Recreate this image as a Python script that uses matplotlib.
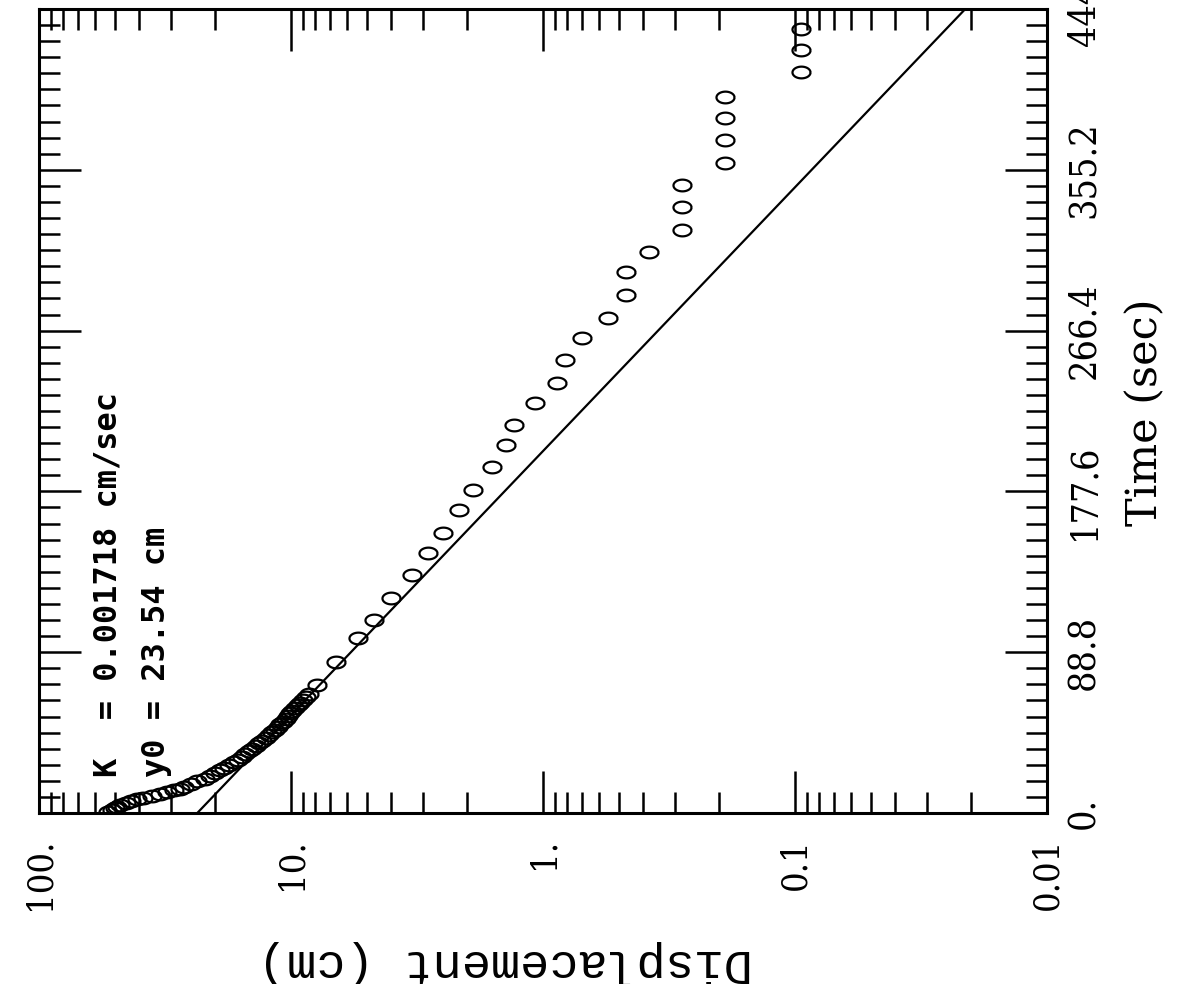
import numpy as np
import matplotlib
matplotlib.use("Agg")
import matplotlib.pyplot as plt
from matplotlib.path import Path
from matplotlib.ticker import LogLocator, MultipleLocator, NullFormatter

# slug test record: time (sec) and displacement (cm)
time_dense = [0.5, 1.5, 2.5, 3.5, 4.5, 5.5, 6.5, 7.5, 8.5, 9.5, 10.5, 11.5, 12.5,
              13.5, 14.5, 16, 17.5, 19, 20.5, 22, 23.5, 25, 26.5, 28, 29.5, 31,
              32.5, 34, 35.5, 37, 38.5, 40, 41.5, 43, 44.5, 46, 47.5, 49, 50.5,
              52, 53.5, 55, 56.5, 58, 59.5, 61, 62.5, 64, 65.5]
disp_dense = [53, 51.5, 50, 49, 47.5, 45, 43, 41, 38.5, 35.5, 33, 31, 29,
              27.5, 26.5, 25, 23.5, 22, 21, 20, 19.2, 18.4, 17.6, 16.9, 16.3, 15.7,
              15.2, 14.7, 14.3, 13.8, 13.4, 13.0, 12.6, 12.2, 11.9, 11.6, 11.3, 11.1, 10.8,
              10.5, 10.3, 10.1, 9.9, 9.6, 9.4, 9.2, 9.0, 8.7, 8.5]

time_sparse = [70.7, 83.4, 96.6, 106.6, 118.7, 131.4, 143.6, 154.6, 167.3, 178.4,
               191.1, 203.2, 214.3, 226.4, 237.4, 250.1, 262.3, 273.3, 286.0, 298.7,
               309.8, 321.9, 334.6, 346.8, 358.9, 371.6, 383.8, 395.4, 409.2, 421.3, 433.0]
disp_sparse = [7.9, 6.6, 5.4, 4.7, 4.0, 3.3, 2.85, 2.5, 2.15, 1.9,
               1.6, 1.4, 1.3, 1.08, 0.88, 0.82, 0.70, 0.55, 0.47, 0.47,
               0.38, 0.28, 0.28, 0.28, 0.19, 0.19, 0.19, 0.19, 0.095, 0.095, 0.095]

# fitted straight line (y0 = 23.54 cm)
fit_time = [0, 444]
fit_disp = [23.54, 0.0211]

disp_ticks = [100, 10, 1, 0.1, 0.01]
disp_labels = ['100.', '10.', '1.', '0.1', '0.01']
time_ticks = [0, 88.8, 177.6, 266.4, 355.2, 444]
time_labels = ['0.', '88.8', '177.6', '266.4', '355.2', '444.']

# oval marker, like a printed "0"
th = np.linspace(0, 2 * np.pi, 41)
oval = Path(np.column_stack([np.cos(th), 0.65 * np.sin(th)]))

fig = plt.figure(figsize=(11.78, 9.84), dpi=100)
ax = fig.add_axes([39 / 1178, 1 - 813 / 984, 1008 / 1178, 804 / 984])

ax.plot(fit_disp, fit_time, color='k', lw=1.6)
ax.plot(disp_dense + disp_sparse, time_dense + time_sparse, ls='none',
        marker=oval, ms=13, mfc='none', mec='k', mew=1.6)

ax.set_xscale('log')
ax.set_xlim(100, 0.01)
ax.set_ylim(0, 444)

ax.set_xticks(disp_ticks)
ax.set_xticklabels(disp_labels, rotation=90, family='DejaVu Serif',
                   fontstretch='condensed', fontsize=26)
ax.xaxis.set_minor_locator(LogLocator(base=10, subs=np.arange(2, 10)))
ax.xaxis.set_minor_formatter(NullFormatter())

ax.set_yticks(time_ticks)
ax.set_yticklabels(time_labels, rotation=90, va='center', family='DejaVu Serif',
                   fontstretch='condensed', fontsize=27)
ax.yaxis.set_minor_locator(MultipleLocator(8.88))

ax.tick_params(axis='both', which='both', direction='in', top=True, bottom=True,
               left=True, right=True, labelleft=False, labelright=True, width=1.8)
ax.tick_params(axis='both', which='major', length=30)
ax.tick_params(axis='both', which='minor', length=15)
ax.tick_params(axis='x', which='major', pad=18)
ax.tick_params(axis='y', which='major', pad=14)

for s in ax.spines.values():
    s.set_linewidth(2.2)

ax.text((108 - 39) / 1008, 36 / 804, 'K  = 0.001718 cm/sec', transform=ax.transAxes,
        rotation=90, ha='center', va='bottom', family='DejaVu Sans Mono',
        fontweight='bold', fontsize=23)
ax.text((157 - 39) / 1008, 36 / 804, 'y0 = 23.54 cm', transform=ax.transAxes,
        rotation=90, ha='center', va='bottom', family='DejaVu Sans Mono',
        fontweight='bold', fontsize=23)

fig.text(1145 / 1178, 1 - 412 / 984, 'Time (sec)', rotation=90, ha='center', va='center',
         family='DejaVu Serif', fontsize=31)
fig.text(505 / 1178, 1 - 963 / 984, 'Displacement (cm)', rotation=180, ha='center',
         va='center', family='Liberation Mono', fontsize=35)

fig.savefig('out.png', dpi=100)
